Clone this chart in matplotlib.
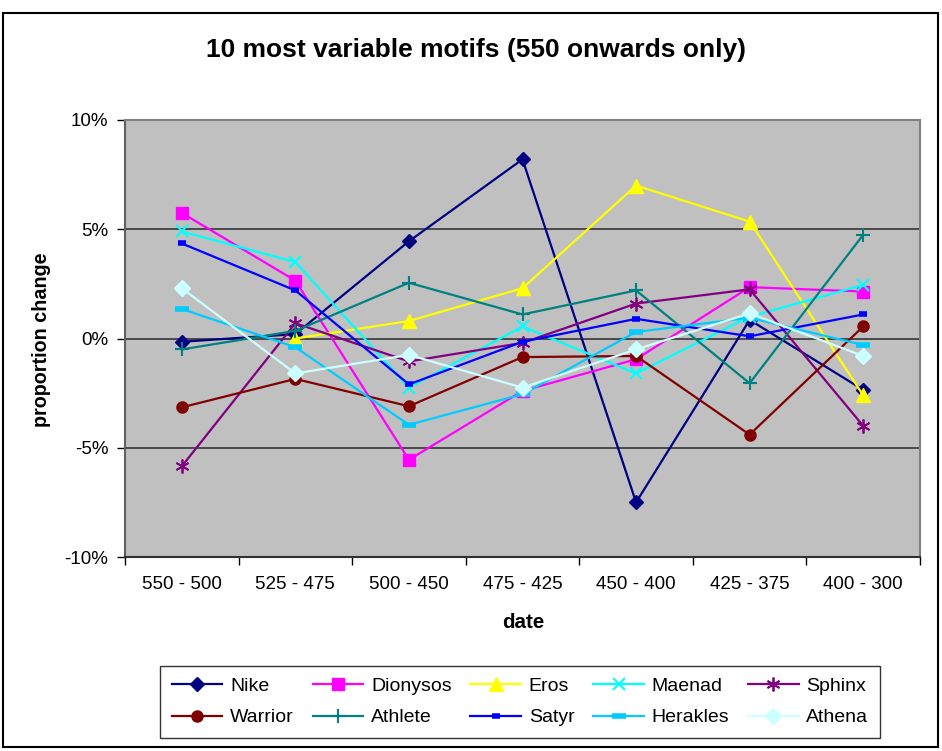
import numpy as np
import matplotlib
matplotlib.use("Agg")
import matplotlib.pyplot as plt
from matplotlib.ticker import FuncFormatter, FixedLocator, NullFormatter
from matplotlib.patches import Rectangle

plt.rcParams['font.family'] = ['Liberation Sans', 'DejaVu Sans']

categories = ["550 - 500", "525 - 475", "500 - 450", "475 - 425", "450 - 400", "425 - 375", "400 - 300"]

nike     = [-0.15, 0.2, 4.45, 8.2, -7.5, 0.85, -2.35]
dionysos = [5.75, 2.65, -5.55, -2.4, -0.95, 2.35, 2.15]
eros     = [np.nan, 0.0, 0.8, 2.3, 7.0, 5.35, -2.6]
maenad   = [4.9, 3.5, -2.25, 0.55, -1.6, 1.0, 2.45]
sphinx   = [-5.85, 0.7, -1.05, -0.2, 1.6, 2.25, -4.0]
warrior  = [-3.15, -1.85, -3.1, -0.85, -0.8, -4.4, 0.55]
athlete  = [-0.5, 0.35, 2.55, 1.1, 2.2, -2.05, 4.75]
satyr    = [4.35, 2.2, -2.1, -0.15, 0.9, 0.1, 1.1]
herakles = [1.35, -0.4, -3.95, -2.55, 0.3, 0.95, -0.3]
athena   = [2.3, -1.6, -0.75, -2.25, -0.5, 1.15, -0.8]

series_names = ["Nike", "Dionysos", "Eros", "Maenad", "Sphinx",
                "Warrior", "Athlete", "Satyr", "Herakles", "Athena"]
series_values = [nike, dionysos, eros, maenad, sphinx,
                 warrior, athlete, satyr, herakles, athena]
colors = ["#000080", "#FF00FF", "#FFFF00", "#00FFFF", "#800080",
          "#800000", "#008080", "#0000FF", "#00CCFF", "#CCFFFF"]
markers = ["D", "s", "^", "x", (6, 2, 0), "o", "+", "_", "_", "D"]
msizes = [7, 8, 10, 9, 10, 8, 10, 6, 10, 8]
mews = [1, 1, 1, 1.5, 1.3, 1, 1.5, 4, 4, 1]

fig = plt.figure(figsize=(9.42, 7.51), dpi=100)
fig.patch.set_facecolor("white")
ax = fig.add_axes([125/942, 1-557/751, 795/942, 437/751])
ax.set_facecolor("#C0C0C0")

x = np.arange(len(categories))
handles = []
for name, vals, c, m, ms, mew in zip(series_names, series_values, colors, markers, msizes, mews):
    v = np.array(vals, dtype=float) / 100.0
    h, = ax.plot(x, v, color=c, lw=1.6, marker=m, markersize=ms, markeredgewidth=mew,
                 markerfacecolor=c, markeredgecolor=c, label=name)
    handles.append(h)

ax.set_xlim(-0.5, len(categories) - 0.5)
ax.set_ylim(-0.10, 0.10)
ax.set_yticks([-0.10, -0.05, 0, 0.05, 0.10])
ax.yaxis.set_major_formatter(FuncFormatter(lambda v, p: f"{v*100:.0f}%"))
for yv in [-0.05, 0, 0.05]:
    ax.axhline(yv, color="#404040", lw=1.3, zorder=0.5)

ax.set_xticks(x)
ax.set_xticklabels(categories)
ax.xaxis.set_minor_locator(FixedLocator(np.arange(-0.5, len(categories), 1.0)))
ax.xaxis.set_minor_formatter(NullFormatter())
ax.tick_params(axis="x", which="major", length=0, pad=14, labelsize=13.5)
ax.tick_params(axis="x", which="minor", length=6, width=1, direction="out")
ax.tick_params(axis="y", length=6, width=1, direction="out", pad=6, labelsize=13.5)

for s in ["top", "right"]:
    ax.spines[s].set_color("#808080")
    ax.spines[s].set_linewidth(1.5)
ax.spines["left"].set_color("#606060")
ax.spines["left"].set_linewidth(1.5)
ax.spines["bottom"].set_color("#303030")
ax.spines["bottom"].set_linewidth(1.5)

fig.text(476/942, 1-50/751, "10 most variable motifs (550 onwards only)",
         ha="center", va="center", fontsize=19, fontweight="bold")
fig.text(42/942, 1-340/751, "proportion change", rotation=90, ha="center", va="center",
         fontsize=14.2, fontweight="bold")
fig.text(523/942, 1-622/751, "date", ha="center", va="center",
         fontsize=14.8, fontweight="bold")

# legend filled row by row (5 columns x 2 rows)
ncol = 5
nrow = 2
order = [r * ncol + c for c in range(ncol) for r in range(nrow)]
leg = fig.legend([handles[i] for i in order], [series_names[i] for i in order],
                 loc="lower left", ncol=ncol, mode="expand",
                 bbox_to_anchor=(160/942, 1-738/751, 720/942, 76/751),
                 borderaxespad=0, fontsize=14, handlelength=2.6,
                 frameon=True, fancybox=False, edgecolor="black",
                 columnspacing=0.8, handletextpad=0.4, labelspacing=0.7,
                 borderpad=0.6)
leg.get_frame().set_linewidth(1.0)

fig.add_artist(Rectangle((3/942, 1-747/751), 935/942, 734/751, transform=fig.transFigure,
                         fill=False, edgecolor="black", lw=1.5))

fig.savefig("out.png", dpi=100)
